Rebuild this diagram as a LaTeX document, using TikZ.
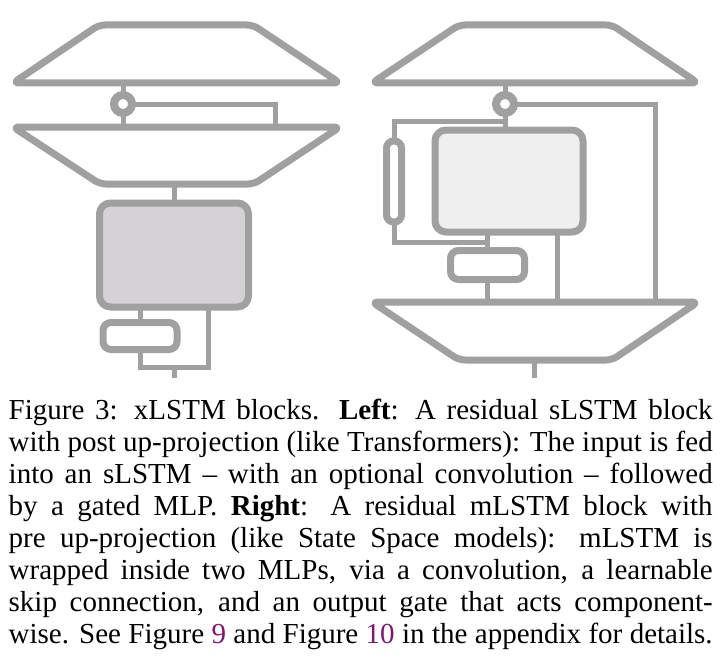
\documentclass[tikz,border=0pt]{standalone}
\usepackage{fontspec}
\setmainfont{Liberation Serif}
\usetikzlibrary{calc}
\definecolor{wiregray}{RGB}{160,160,160}
\definecolor{cellfill}{RGB}{212,210,212}
\definecolor{cellpale}{RGB}{239,239,239}
\definecolor{linkpurple}{RGB}{130,20,110}
\tikzset{
  proj/.style={draw=wiregray,line width=7pt,rounded corners=6pt,line join=round},
  cell/.style={draw=wiregray,fill=#1,line width=7pt,rounded corners=11pt,
    inner sep=0pt,outer sep=0pt},
  cell/.default=white,
  gate/.style={circle,draw=wiregray,fill=white,line width=8pt,minimum size=18pt,
    inner sep=0pt,outer sep=0pt},
  wire/.style={draw=wiregray,line width=5pt},
  capline/.style={anchor=base west,inner sep=0pt,font=\fontsize{29pt}{32pt}\selectfont},
}
\newcommand{\capfill}[1]{\makebox[704pt][s]{#1}}

\begin{document}
\begin{tikzpicture}[x=1pt,y=-1pt]
  \useasboundingbox (0,0) rectangle (723,661);
  % sLSTM block (left)
  \draw[proj] (176,83) coordinate (downL) -- (340,83) -- (253,25) -- (99,25) -- (13,83) -- cycle;
  \draw[proj] (176,127) coordinate (upL) -- (340,127) -- (254,184) coordinate (upLs) -- (100,184) -- (13,127) -- cycle;
  \node[gate] (gateL) at (123,104) {};
  \node[cell=cellfill,minimum width=149pt,minimum height=104pt] (lstmL) at (174,255) {};
  \node[cell,rounded corners=8pt,minimum width=74pt,minimum height=27pt] (convL) at (140,336) {};
  \coordinate (resL) at (275,127);
  \coordinate (jL) at (208,367);
  \coordinate (inL) at (174,378);
  \draw[wire] (gateL) -- (gateL |- downL);
  \draw[wire] (gateL) -- (gateL |- upL);
  \draw[wire] (gateL) -| (resL);
  \draw[wire] (lstmL) -- (lstmL |- upLs);
  \draw[wire] (convL) -- (convL |- lstmL.south);
  \draw[wire] (convL) |- (jL) -- (jL |- lstmL.south);
  \draw[wire] (inL) -- (inL |- jL);

  % mLSTM block (right)
  \draw[proj] (535,83) coordinate (downR) -- (698,83) -- (612,25) -- (459,25) -- (372,83) -- cycle;
  \draw[proj] (535,302) coordinate (upR) -- (698,302) -- (612,360) coordinate (upRs) -- (459,360) -- (372,302) -- cycle;
  \node[gate] (gateR) at (505,104) {};
  \node[cell=cellpale,minimum width=148pt,minimum height=102pt] (lstmR) at (509,181) {};
  \node[cell,rounded corners=7pt,minimum width=15pt,minimum height=81pt] (convR) at (394,181.5) {};
  \node[cell,rounded corners=8pt,minimum width=74pt,minimum height=29pt] (normR) at (487.5,265) {};
  \coordinate (resR) at (655,302);
  \coordinate (tapR) at (505,121);
  \coordinate (jR) at (487.5,242);
  \coordinate (hR) at (557,302);
  \coordinate (inR) at (534,378);
  \draw[wire] (gateR) -- (gateR |- downR);
  \draw[wire] (gateR) -| (resR);
  \draw[wire] (gateR) -- (gateR |- lstmR.north);
  \draw[wire] (tapR) -| (convR);
  \draw[wire] (convR) |- (jR);
  \draw[wire] (normR) -- (normR |- lstmR.south);
  \draw[wire] (normR) -- (normR |- upR);
  \draw[wire] (hR) -- (hR |- lstmR.south);
  \draw[wire] (inR) -- (inR |- upRs);

  % caption
  \node[capline] (cap1) at (8.5,419) {\capfill{Figure 3: xLSTM blocks. \textbf{Left}: A residual sLSTM block}};
  \node[capline] (cap2) at (8.5,451) {\capfill{with post up-projection (like Transformers): The input is fed}};
  \node[capline] (cap3) at (8.5,483) {\capfill{into an sLSTM – with an optional convolution – followed}};
  \node[capline] (cap4) at (8.5,515) {\capfill{by a gated MLP. \textbf{Right}: A residual mLSTM block with}};
  \node[capline] (cap5) at (8.5,547) {\capfill{pre up-projection (like State Space models): mLSTM is}};
  \node[capline] (cap6) at (8.5,579) {\capfill{wrapped inside two MLPs, via a convolution, a learnable}};
  \node[capline] (cap7) at (8.5,611) {\capfill{skip connection, and an output gate that acts component-}};
  \node[capline] (cap8) at (8.5,643) {\capfill{wise. See Figure \textcolor{linkpurple}{9} and Figure \textcolor{linkpurple}{10} in the appendix for details.}};
\end{tikzpicture}
\end{document}
